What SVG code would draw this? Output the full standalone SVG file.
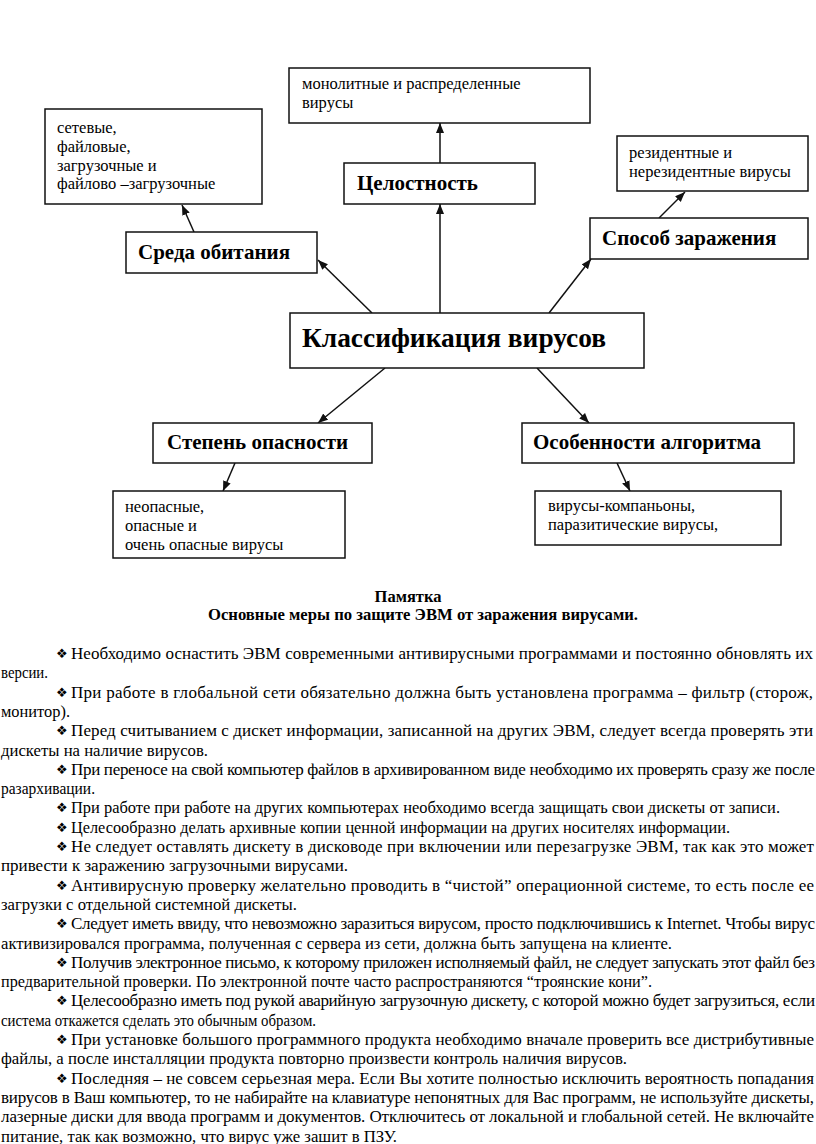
<svg xmlns="http://www.w3.org/2000/svg" width="816" height="1144" viewBox="0 0 816 1144">
<style>
  .box { fill: #fff; stroke: #111; stroke-width: 1.5; }
  text { font-family: "Liberation Serif", "Times New Roman", serif; fill: #000; }
  .r { font-size: 16.5px; }
  .b { font-size: 21px; font-weight: bold; }
  .title { font-size: 27px; font-weight: bold; }
  .h { font-size: 16.5px; font-weight: bold; }
  .p { font-size: 17px; }
  .bul { font-family: "DejaVu Sans", sans-serif; font-size: 13px; }
  .con { stroke: #111; stroke-width: 1.5; fill: none; marker-end: url(#arr); }
</style>
<defs>
  <marker id="arr" markerUnits="userSpaceOnUse" markerWidth="11" markerHeight="9" refX="10" refY="4" orient="auto">
    <path d="M0,0 L10,4 L0,8 z" fill="#111"/>
  </marker>
</defs>
<rect width="816" height="1144" fill="#fff"/>

<g id="connectors">
  <line class="con" x1="372" y1="313" x2="318" y2="260"/>
  <line class="con" x1="194" y1="232" x2="182" y2="205"/>
  <line class="con" x1="440" y1="313" x2="440" y2="204"/>
  <line class="con" x1="440" y1="163" x2="440" y2="123"/>
  <line class="con" x1="549" y1="313" x2="591" y2="259"/>
  <line class="con" x1="659" y1="218" x2="685" y2="192"/>
  <line class="con" x1="385" y1="368" x2="318" y2="423"/>
  <line class="con" x1="235" y1="463" x2="223" y2="491"/>
  <line class="con" x1="537" y1="368" x2="589" y2="423"/>
  <line class="con" x1="617" y1="463" x2="630" y2="491"/>
</g>

<g id="node-monolit">
  <rect class="box" x="289" y="68" width="301" height="55"/>
  <text class="r" x="302" y="89">монолитные и распределенные</text>
  <text class="r" x="302" y="108">вирусы</text>
</g>
<g id="node-setevye">
  <rect class="box" x="45" y="109" width="217" height="95"/>
  <text class="r" x="57" y="133">сетевые,</text>
  <text class="r" x="57" y="152">файловые,</text>
  <text class="r" x="57" y="170.5">загрузочные и</text>
  <text class="r" x="57" y="189">файлово –загрузочные</text>
</g>
<g id="node-rezident">
  <rect class="box" x="617" y="136" width="191" height="55"/>
  <text class="r" x="629" y="158">резидентные и</text>
  <text class="r" x="629" y="177">нерезидентные вирусы</text>
</g>
<g id="node-celostnost">
  <rect class="box" x="344" y="163" width="191" height="41"/>
  <text class="b" x="357" y="190">Целостность</text>
</g>
<g id="node-sreda">
  <rect class="box" x="126" y="232" width="191" height="41"/>
  <text class="b" x="138" y="259">Среда обитания</text>
</g>
<g id="node-sposob">
  <rect class="box" x="590" y="218" width="218" height="41"/>
  <text class="b" x="602" y="245">Способ заражения</text>
</g>
<g id="node-klass">
  <rect class="box" x="290" y="313" width="354" height="55"/>
  <text class="title" x="302" y="347" textLength="304" lengthAdjust="spacingAndGlyphs">Классификация вирусов</text>
</g>
<g id="node-stepen">
  <rect class="box" x="153" y="423" width="219" height="40"/>
  <text class="b" x="167" y="449">Степень опасности</text>
</g>
<g id="node-osob">
  <rect class="box" x="522" y="423" width="272" height="40"/>
  <text class="b" x="533" y="449">Особенности алгоритма</text>
</g>
<g id="node-neopas">
  <rect class="box" x="113" y="491" width="232" height="67"/>
  <text class="r" x="125" y="512">неопасные,</text>
  <text class="r" x="125" y="531">опасные и</text>
  <text class="r" x="125" y="550">очень опасные вирусы</text>
</g>
<g id="node-virusy">
  <rect class="box" x="535" y="491" width="246" height="54"/>
  <text class="r" x="548" y="511">вирусы-компаньоны,</text>
  <text class="r" x="548" y="530">паразитические вирусы,</text>
</g>

<g id="memo">
  <text class="h" x="408" y="602" text-anchor="middle">Памятка</text>
  <text class="h" x="208" y="620" textLength="430" lengthAdjust="spacingAndGlyphs">Основные меры по защите ЭВМ от заражения вирусами.</text>

  <g class="bullets">
    <text class="bul" x="56" y="658">❖</text>
    <text class="bul" x="56" y="696.6">❖</text>
    <text class="bul" x="56" y="735.2">❖</text>
    <text class="bul" x="56" y="773.8">❖</text>
    <text class="bul" x="56" y="812.4">❖</text>
    <text class="bul" x="56" y="831.7">❖</text>
    <text class="bul" x="56" y="851">❖</text>
    <text class="bul" x="56" y="889.6">❖</text>
    <text class="bul" x="56" y="928.2">❖</text>
    <text class="bul" x="56" y="966.8">❖</text>
    <text class="bul" x="56" y="1005.4">❖</text>
    <text class="bul" x="56" y="1044">❖</text>
    <text class="bul" x="56" y="1082.6">❖</text>
  </g>

  <text class="p" x="71" y="659" textLength="742" lengthAdjust="spacing">Необходимо оснастить ЭВМ современными антивирусными программами и постоянно обновлять их</text>
  <text class="p" x="1" y="678.3" textLength="47" lengthAdjust="spacingAndGlyphs">версии.</text>
  <text class="p" x="71" y="697.6" textLength="742" lengthAdjust="spacing">При работе в глобальной сети обязательно должна быть установлена программа – фильтр (сторож,</text>
  <text class="p" x="1" y="716.9" textLength="69" lengthAdjust="spacingAndGlyphs">монитор).</text>
  <text class="p" x="71" y="736.2" textLength="742" lengthAdjust="spacing">Перед считыванием с дискет информации, записанной на других ЭВМ, следует всегда проверять эти</text>
  <text class="p" x="1" y="755.5" textLength="207" lengthAdjust="spacingAndGlyphs">дискеты на наличие вирусов.</text>
  <text class="p" x="71" y="774.8" textLength="744" lengthAdjust="spacing">При переносе на свой компьютер файлов в архивированном виде необходимо их проверять сразу же после</text>
  <text class="p" x="1" y="794.1" textLength="94" lengthAdjust="spacingAndGlyphs">разархивации.</text>
  <text class="p" x="71" y="813.4" textLength="709" lengthAdjust="spacingAndGlyphs">При работе при работе на других компьютерах необходимо всегда защищать свои дискеты от записи.</text>
  <text class="p" x="71" y="832.7" textLength="659" lengthAdjust="spacingAndGlyphs">Целесообразно делать архивные копии ценной информации на других носителях информации.</text>
  <text class="p" x="71" y="852" textLength="743" lengthAdjust="spacing">Не следует оставлять дискету в дисководе при включении или перезагрузке ЭВМ, так как это может</text>
  <text class="p" x="1" y="871.3" textLength="347" lengthAdjust="spacingAndGlyphs">привести к заражению загрузочными вирусами.</text>
  <text class="p" x="71" y="890.6" textLength="743" lengthAdjust="spacing">Антивирусную проверку желательно проводить в “чистой” операционной системе, то есть после ее</text>
  <text class="p" x="1" y="909.9" textLength="296" lengthAdjust="spacingAndGlyphs">загрузки с отдельной системной дискеты.</text>
  <text class="p" x="71" y="929.2" textLength="744" lengthAdjust="spacing">Следует иметь ввиду, что невозможно заразиться вирусом, просто подключившись к Internet. Чтобы вирус</text>
  <text class="p" x="1" y="948.5" textLength="671" lengthAdjust="spacingAndGlyphs">активизировался программа, полученная с сервера из сети, должна быть запущена на клиенте.</text>
  <text class="p" x="71" y="967.8" textLength="744" lengthAdjust="spacing">Получив электронное письмо, к которому приложен исполняемый файл, не следует запускать этот файл без</text>
  <text class="p" x="1" y="987.1" textLength="651" lengthAdjust="spacingAndGlyphs">предварительной проверки. По электронной почте часто распространяются “троянские кони”.</text>
  <text class="p" x="71" y="1006.4" textLength="744" lengthAdjust="spacing">Целесообразно иметь под рукой аварийную загрузочную дискету, с которой можно будет загрузиться, если</text>
  <text class="p" x="1" y="1025.7" textLength="315" lengthAdjust="spacingAndGlyphs">система откажется сделать это обычным образом.</text>
  <text class="p" x="71" y="1045" textLength="743" lengthAdjust="spacing">При установке большого программного продукта необходимо вначале проверить все дистрибутивные</text>
  <text class="p" x="1" y="1064.3" textLength="626" lengthAdjust="spacingAndGlyphs">файлы, а после инсталляции продукта повторно произвести контроль наличия вирусов.</text>
  <text class="p" x="71" y="1083.6" textLength="743" lengthAdjust="spacing">Последняя – не совсем серьезная мера. Если Вы хотите полностью исключить вероятность попадания</text>
  <text class="p" x="1" y="1102.9" textLength="813" lengthAdjust="spacing">вирусов в Ваш компьютер, то не набирайте на клавиатуре непонятных для Вас программ, не используйте дискеты,</text>
  <text class="p" x="1" y="1122.2" textLength="813" lengthAdjust="spacing">лазерные диски для ввода программ и документов. Отключитесь от локальной и глобальной сетей. Не включайте</text>
  <text class="p" x="1" y="1141.5" textLength="396" lengthAdjust="spacingAndGlyphs">питание, так как возможно, что вирус уже зашит в ПЗУ.</text>
</g>
</svg>
